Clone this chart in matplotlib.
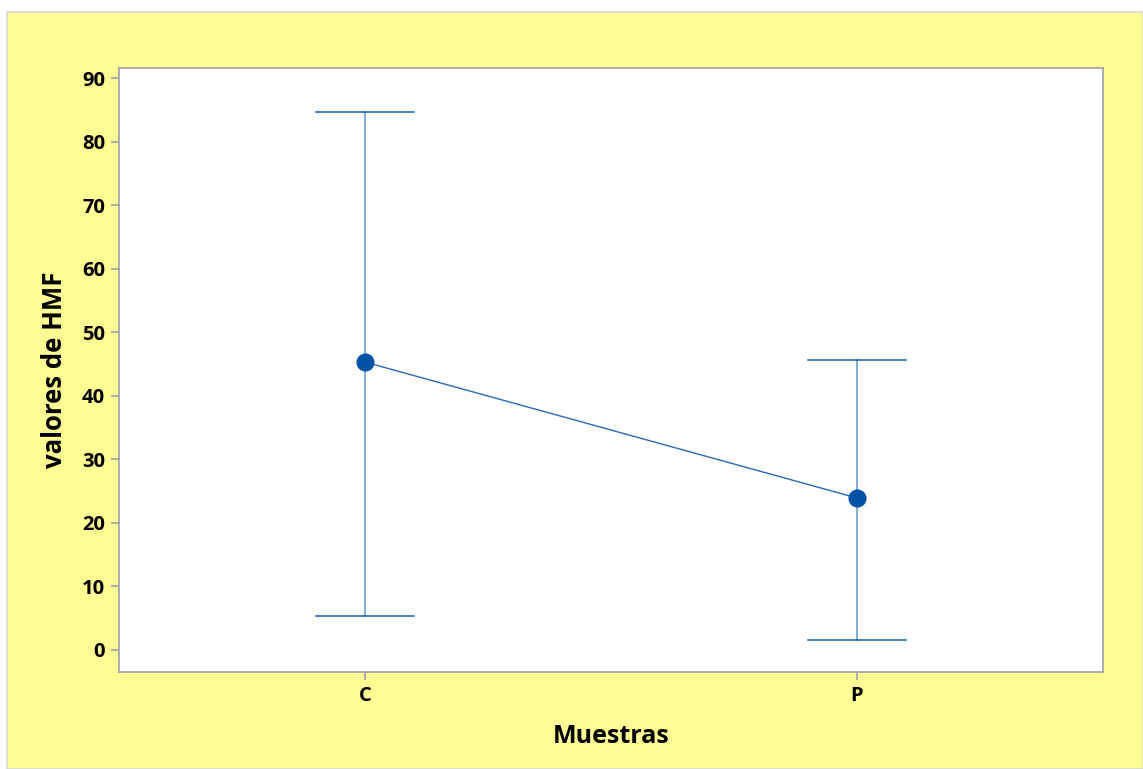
import matplotlib.pyplot as plt
from matplotlib.patches import Rectangle

# Intervalos de HMF por muestra
muestras = ["C", "P"]
medias = [45.3, 23.9]
limite_sup = [84.6, 45.6]
limite_inf = [5.3, 1.6]

W, H = 1143, 769
fig = plt.figure(figsize=(W / 100, H / 100), dpi=100, facecolor="white")

# Fondo amarillo del gráfico
fig.patches.append(Rectangle((7 / W, 0), 1 - 7 / W, 1 - 12 / H,
                             transform=fig.transFigure, facecolor="#fffc94",
                             edgecolor="#d8d8d8", linewidth=1.2, zorder=-1))

ax = fig.add_axes([119 / W, 1 - 672 / H, (1103 - 119) / W, (672 - 68) / H])
ax.set_zorder(1)
ax.set_facecolor("white")

x = list(range(1, len(muestras) + 1))
for xi, lo, hi in zip(x, limite_inf, limite_sup):
    ax.plot([xi, xi], [lo, hi], color="#86acd8", linewidth=1.5, zorder=2)
    ax.plot([xi - 0.1, xi + 0.1], [hi, hi], color="#0f5fb0", linewidth=1.1, zorder=2)
    ax.plot([xi - 0.1, xi + 0.1], [lo, lo], color="#0f5fb0", linewidth=1.1, zorder=2)

ax.plot(x, medias, color="#2a6ab8", linewidth=1.0, zorder=3)
ax.plot(x, medias, "o", color="#0052a5", markersize=12, zorder=4)

ax.set_xlim(0.5, 2.5)
ax.set_ylim(-3.5, 91.6)
ax.set_xticks(x)
ax.set_xticklabels(muestras)
ax.set_yticks(range(0, 91, 10))

for s in ax.spines.values():
    s.set_color("#a0a0a8")
    s.set_linewidth(1.2)
ax.tick_params(axis="both", color="#9a9ab0", length=6, width=1.1,
               labelsize=14.5, pad=4)
for lab in ax.get_xticklabels() + ax.get_yticklabels():
    lab.set_fontfamily("Open Sans")
    lab.set_fontweight("bold")

ax.set_xlabel("Muestras", fontsize=18, fontfamily="Open Sans",
              fontweight="bold", labelpad=13)
ax.set_ylabel("valores de HMF", fontsize=18.5, fontfamily="Open Sans",
              fontweight="bold", labelpad=10)

fig.savefig("out.png", dpi=100)
